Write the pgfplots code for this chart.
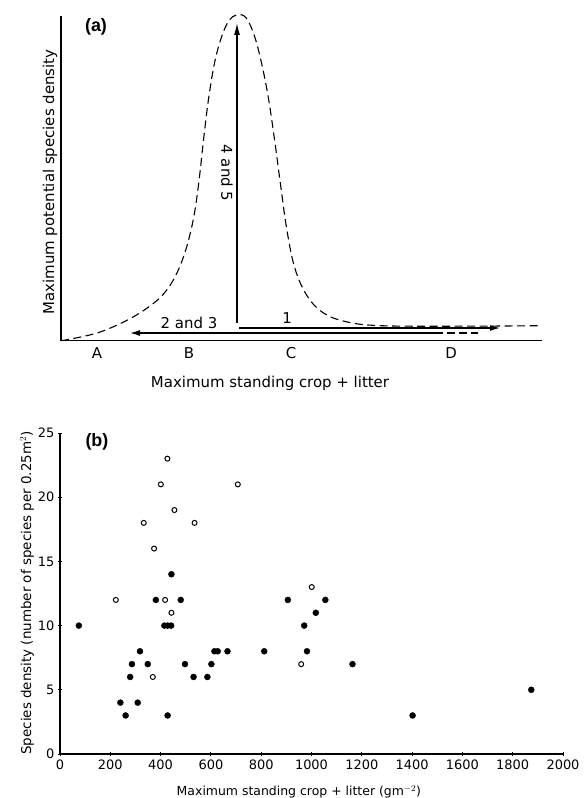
\documentclass[border=0pt]{standalone}
\usepackage{fontspec}
\setmainfont{DejaVu Sans}
\newfontfamily\arialfont{Liberation Sans}
\usepackage{pgfplots}
\pgfplotsset{compat=1.18}
\usetikzlibrary{arrows.meta}
\begin{document}
\begin{tikzpicture}
\useasboundingbox (0,0) rectangle (586bp,798bp);
% ---------------- panel (a) ----------------
\begin{scope}[xshift=61bp, yshift=457.3bp]
\begin{axis}[anchor=south west, scale only axis,
  width=480.5bp, height=324.7bp,
  xmin=0, xmax=480.5, ymin=0, ymax=324.7,
  axis x line=bottom, axis y line=left,
  axis line style={-, line width=1.2pt},
  xtick=\empty, ytick=\empty, clip=false]
\addplot[smooth, tension=0.6, dash pattern=on 8bp off 4.5bp, line width=1.1pt] coordinates {
 (0,0) (14,2.5) (40,9) (69,22) (92,37) (106,51) (117,70) (126,95)
 (133,125) (138,160) (143,205) (148,245) (154,280) (161,305) (168,320) (176,326) (185,323)
 (193,306) (200,280) (207,245) (213,205) (219,160) (226,110) (234,72)
 (246,45) (262,28) (285,19) (320,15) (400,14.5) (481,15)};
\addplot[line width=1.2pt, -{Latex[length=12bp,width=6bp]}] coordinates {(176,17.7) (176,317.7)};
\addplot[line width=1.2pt, -{Latex[length=10bp,width=6bp]}] coordinates {(178,12.7) (439,12.7)};
\addplot[line width=1.2pt, -{Latex[length=10bp,width=6bp]}] coordinates {(382,7.7) (69,7.7)};
\addplot[line width=1.2pt, dash pattern=on 8bp off 4bp] coordinates {(386,7.7) (417,7.7)};
\node[font=\fontsize{15}{18}\selectfont] at (axis cs:226,22.7) {1};
\node[font=\fontsize{15}{18}\selectfont] at (axis cs:128,17.7) {2 and 3};
\node[font=\fontsize{15}{18}\selectfont, rotate=-90] at (axis cs:166,167.7) {4 and 5};
\node[font=\fontsize{15}{18}\selectfont] at (axis cs:36,-12.3) {A};
\node[font=\fontsize{15}{18}\selectfont] at (axis cs:128,-12.3) {B};
\node[font=\fontsize{15}{18}\selectfont] at (axis cs:230,-12.3) {C};
\node[font=\fontsize{15}{18}\selectfont] at (axis cs:390,-12.3) {D};
\node[font=\fontsize{15}{18}\selectfont] at (axis cs:209,-42.3) {Maximum standing crop + litter};
\node[font=\fontsize{15}{18}\selectfont, rotate=90] at (axis cs:-11,158.7) {Maximum potential species density};
\node[font=\arialfont\bfseries\fontsize{18}{20}\selectfont] at (axis cs:35,313.7) {(a)};
\end{axis}
\end{scope}
% ---------------- panel (b) ----------------
\begin{scope}[xshift=60bp, yshift=44bp]
\begin{axis}[anchor=south west, scale only axis,
  width=503bp, height=321bp,
  xmin=0, xmax=2000, ymin=0, ymax=25,
  axis x line=bottom, axis y line=left,
  axis line style={-, line width=1.1pt},
  xtick={0,200,...,2000}, ytick={0,5,...,25},
  tick style={black, line width=0.9pt}, major tick length=4bp,
  tick label style={font=\fontsize{13}{15}\selectfont},
  /pgf/number format/assume math mode=true,
  /pgf/number format/1000 sep={},
  clip=false]
\addplot[only marks, mark=*, mark size=3bp, black] coordinates {
 (75,10) (381,12) (480,12) (415,10) (428,10) (442,10) (318,8) (286,7)
 (279,6) (349,7) (240,4) (309,4) (261,3) (428,3) (497,7) (531,6) (586,6)
 (602,7) (614,8) (627,8) (666,8) (812,8) (906,12) (971,10) (982,8)
 (1017,11) (1055,12) (1163,7) (1402,3) (1874,5) (443,14)};
\addplot[only marks, mark=o, mark size=2.5bp, black, line width=1pt] coordinates {
 (222,12) (418,12) (443,11) (369,6) (427,23) (401,21) (707,21) (455,19)
 (333,18) (535,18) (374,16) (1001,13) (959,7)};
\node[font=\fontsize{12.5}{14}\selectfont] at (axis cs:950,-2.96) {Maximum standing crop + litter (gm$^{-2}$)};
\node[font=\fontsize{13.5}{15}\selectfont, rotate=90] at (axis cs:-131,12.54) {Species density (number of species per 0.25m$^{2}$)};
\node[font=\arialfont\bfseries\fontsize{18}{20}\selectfont] at (axis cs:147,24.3) {(b)};
\end{axis}
\end{scope}
\end{tikzpicture}
\end{document}
